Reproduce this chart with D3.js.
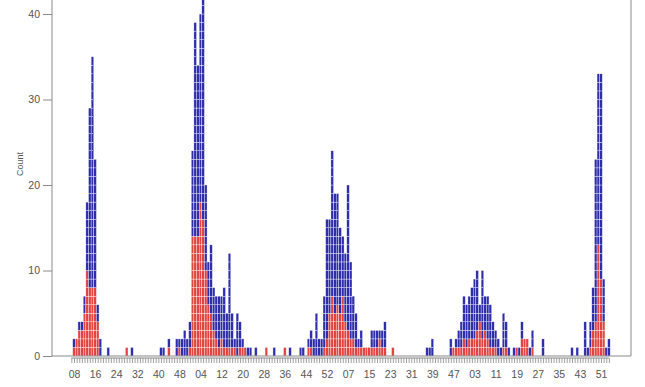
<!DOCTYPE html>
<html>
<head>
<meta charset="utf-8">
<script src="https://cdn.jsdelivr.net/npm/d3@7"></script>
<style>
  html, body { margin: 0; padding: 0; background: #fff; }
  #chart { width: 645px; height: 387px; overflow: hidden; }
</style>
</head>
<body>
<div id="chart"></div>
<script>
// weekly case counts (total per week, and the red part of each stack)
const firstWeek = 8;                 // series starts at week 08 of 2008
const years = [2008, 2009, 2010, 2011, 2012];

const total2008 = [2,2,4,4,7,18,29,35,23,6, 2,0,0,1,0,0,0,0,0,0, 1,0,1,0,0,0,0,0,0,0, 0,0,0,1,1,0,2,0,0,2, 2,2,3,2,4];
const red2008   = [1,2,3,3,5,10,8,8,8,4, 0,0,0,0,0,0,0,0,0,0, 1,0,0,0,0,0,0,0,0,0, 0,0,0,0,0,0,1,0,0,0, 1,0,0,0,1];

const total2009 = [24,39,34,40,43,20,11,13,8,7, 7,7,8,5,12,5,2,5,4,2, 1,1,1,0,1,0,0,0,1,0, 0,1,0,0,0,1,0,1,0,0, 0,1,1,0,2,3,2,5,2,2, 7,16,16];
const red2009   = [14,14,14,18,16,10,6,5,3,2, 1,2,1,1,1,1,1,0,1,1, 1,0,0,0,0,0,0,0,1,0, 0,0,0,0,0,1,0,0,0,0, 0,0,0,0,1,1,0,0,0,0, 1,2,5];

const total2010 = [24,19,19,15,14,12,20,11,7,5, 2,3,1,1,1,3,3,3,3,3, 4,0,0,1,0,0,0,0,0,0, 0,0,0,0,0,0,1,1,2,0, 0,0,0,0,0,2,1,2,3,4, 7,6];
const red2010   = [7,5,6,5,7,4,3,2,2,1, 1,1,1,1,1,1,1,1,2,1, 1,0,0,1,0,0,0,0,0,0, 0,0,0,0,0,0,0,0,0,0, 0,0,0,0,0,0,1,1,1,1, 2,1];

const total2011 = [7,8,9,10,6,10,7,7,6,4, 3,2,1,5,4,1,0,1,1,1, 4,2,2,1,3,0,0,0,2,0, 0,0,0,0,0,0,0,0,0,1, 0,1,0,0,4,1,4,8,23,33, 33,9];
const red2011   = [2,2,2,3,4,2,3,2,1,1, 1,0,0,1,1,0,0,0,1,0, 2,2,2,0,1,0,0,0,0,0, 0,0,0,0,0,0,0,0,0,0, 0,0,0,0,0,0,1,3,4,13, 9,4];

const total2012 = [1,2];
const red2012   = [0,0];

const yTicks = [0, 10, 20, 30, 40];
const labelEvery = 8;

const totals = [total2008, total2009, total2010, total2011, total2012];
const reds = [red2008, red2009, red2010, red2011, red2012];

// flatten into one row per week
const weeks = [];
years.forEach((yr, yi) => {
  const start = yi === 0 ? firstWeek : 1;
  totals[yi].forEach((t, k) => {
    weeks.push({year: yr, week: start + k, total: t, red: reds[yi][k]});
  });
});

const W = 645, H = 387;
const colors = {
  blue: "#2e2eab",
  red: "#e2433f",
  axis: "#8a8a8a",
  text: "#555"
};

const svg = d3.select("#chart").append("svg")
  .attr("width", W).attr("height", H)
  .style("font-family", "Liberation Sans, Arial, sans-serif");

const plot = {left: 52, right: 631, bottom: 356};

const x = d3.scaleLinear().domain([0, 200]).range([74, 601]);
const y = d3.scaleLinear().domain([0, 40]).range([plot.bottom, 14]);
const bw = x(1) - x(0);

// stacked case boxes
const cells = [];
weeks.forEach((d, i) => {
  for(let k = 0; k < d.total; k++){
    cells.push({i, k, red: k < d.red});
  }
});

svg.append("g")
  .selectAll("rect")
  .data(cells)
  .join("rect")
    .attr("x", d => x(d.i) - bw/2)
    .attr("y", d => y(d.k + 1))
    .attr("width", bw)
    .attr("height", d => y(d.k) - y(d.k + 1))
    .attr("fill", d => d.red ? colors.red : colors.blue)
    .attr("stroke", "#fff")
    .attr("stroke-width", 0.35);

// box (left, bottom, right)
svg.append("path")
  .attr("d", `M${plot.left},-5V${plot.bottom}H${plot.right}V-5`)
  .attr("fill", "none")
  .attr("stroke", colors.axis)
  .attr("stroke-width", 1);

// y axis
const yAxis = svg.append("g")
  .attr("transform", `translate(${plot.left},0)`)
  .call(d3.axisLeft(y).tickValues(yTicks).tickSize(9).tickPadding(3));
yAxis.select(".domain").remove();
yAxis.selectAll("line").attr("stroke", colors.axis);
yAxis.selectAll("text").attr("fill", colors.text).attr("font-size", 10.5)
  .attr("font-family", "Liberation Sans, Arial, sans-serif");

svg.append("text")
  .attr("transform", `translate(23,164) rotate(-90)`)
  .attr("text-anchor", "middle")
  .attr("font-size", 9)
  .attr("fill", colors.text)
  .text("Count");

// x axis: one tick per week, label every 8th week
const xAxis = svg.append("g")
  .attr("transform", `translate(0,358)`)
  .call(d3.axisBottom(x)
    .tickValues(d3.range(-1, weeks.length))
    .tickSize(5)
    .tickPadding(8)
    .tickFormat(i => (i >= 0 && i % labelEvery === 0) ? String(weeks[i].week).padStart(2, "0") : ""));
xAxis.select(".domain").attr("stroke", colors.axis).attr("d", `M${x(-1)},0H${x(weeks.length - 1)}`);
xAxis.selectAll("line").attr("stroke", "#888").attr("stroke-width", 0.8);
xAxis.selectAll("text").attr("fill", colors.text).attr("font-size", 10.5)
  .attr("font-family", "Liberation Sans, Arial, sans-serif");
</script>
</body>
</html>
